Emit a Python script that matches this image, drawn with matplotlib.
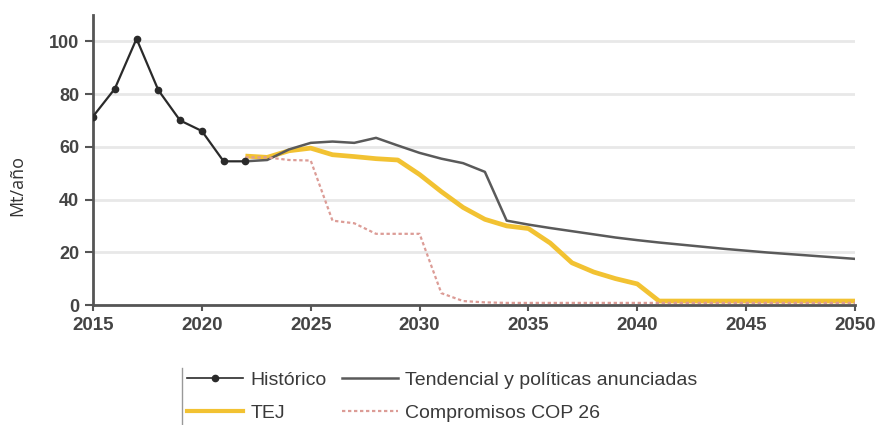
import matplotlib
matplotlib.use("Agg")
import matplotlib.pyplot as plt
from matplotlib.lines import Line2D

plt.rcParams['font.family'] = ['Liberation Sans', 'DejaVu Sans']

# values (Mt/año)
hist_years = [2015, 2016, 2017, 2018, 2019, 2020, 2021, 2022]
hist_vals = [71.5, 82, 101, 81.5, 70, 66, 54.5, 54.5]

proj_years = list(range(2022, 2051))
tend_vals = [54.5, 55, 59, 61.5, 62, 61.5, 63.4, 60.5, 57.7, 55.5, 53.8, 50.5,
             32, 30.5, 29.2, 28, 26.8, 25.6, 24.6, 23.7, 22.9, 22.1, 21.3,
             20.6, 19.9, 19.3, 18.7, 18.1, 17.5]
tej_vals = [56.5, 56, 58.5, 59.5, 57, 56.3, 55.5, 55, 49.5, 43, 37, 32.5,
            30, 29, 23.5, 16, 12.5, 10, 8, 1.5, 1.5, 1.5, 1.5, 1.5, 1.5,
            1.5, 1.5, 1.5, 1.5]
cop_vals = [56, 56, 55, 54.8, 32, 31, 27, 27, 27, 4.5, 1.5, 1, 0.8, 0.8, 0.8,
            0.8, 0.8, 0.8, 0.8, 0.8, 0.8, 0.8, 0.8, 0.8, 0.8, 0.8, 0.8, 0.8,
            0.8]

x_ticks = [2015, 2020, 2025, 2030, 2035, 2040, 2045, 2050]
y_ticks = [0, 20, 40, 60, 80, 100]

fig = plt.figure(figsize=(8.79, 4.25), dpi=100)
ax = fig.add_axes([93 / 879, 1 - 305 / 425, 762 / 879, 290 / 425])

ax.plot(proj_years, tej_vals, color='#f2c232', lw=3.4, solid_capstyle='butt', zorder=2)
ax.plot(proj_years, tend_vals, color='#5a5a5a', lw=1.8, zorder=3)
ax.plot(proj_years, cop_vals, color='#dc9c96', lw=1.6, ls=(0, (1.5, 1.2)), zorder=4)
ax.plot(hist_years, hist_vals, color='#2a2a2a', lw=1.6, marker='o', ms=4.5, zorder=5)

ax.set_xlim(2015, 2050)
ax.set_ylim(0, 110)
ax.set_xticks(x_ticks)
ax.set_yticks(y_ticks)
ax.yaxis.grid(True, color='#e8e8e8', lw=2)
ax.set_axisbelow(True)
ax.grid(False, axis='x')

for s in ['top', 'right']:
    ax.spines[s].set_visible(False)
for s in ['left', 'bottom']:
    ax.spines[s].set_color('#555555')
    ax.spines[s].set_linewidth(2)

ax.tick_params(axis='both', colors='#555555', labelcolor='#444444', width=1.5)
ax.tick_params(axis='y', length=6, pad=4, labelsize=13)
ax.tick_params(axis='x', length=4, pad=5, labelsize=13.5)
for lab in ax.get_xticklabels() + ax.get_yticklabels():
    lab.set_fontweight('bold')

fig.text(17 / 879, 1 - 185 / 425, 'Mt/año', rotation=90, ha='center', va='center',
         fontsize=13, color='#333333', family=['Open Sans', 'DejaVu Sans'])

handles = [
    Line2D([], [], color='#2a2a2a', lw=1.2, marker='o', ms=4.5),
    Line2D([], [], color='#f2c232', lw=3),
    Line2D([], [], color='#5a5a5a', lw=1.8),
    Line2D([], [], color='#dc9c96', lw=1.6, ls=(0, (1.5, 1.2))),
]
labels = ['Histórico', 'TEJ', 'Tendencial y políticas anunciadas', 'Compromisos COP 26']
leg = fig.legend(handles, labels, ncol=2, loc='upper left',
                 bbox_to_anchor=(187 / 879, 1 - 371 / 425), frameon=False,
                 borderpad=0, borderaxespad=0, handlelength=2.9, handletextpad=0.35,
                 columnspacing=0.8, labelspacing=0.8,
                 prop={'size': 14})
for t in leg.get_texts():
    t.set_color('#3a3a3a')

fig.add_artist(Line2D([182 / 879, 182 / 879], [0, 1 - 368 / 425],
                      transform=fig.transFigure, color='#999999', lw=1))

fig.savefig('out.png', dpi=100)
